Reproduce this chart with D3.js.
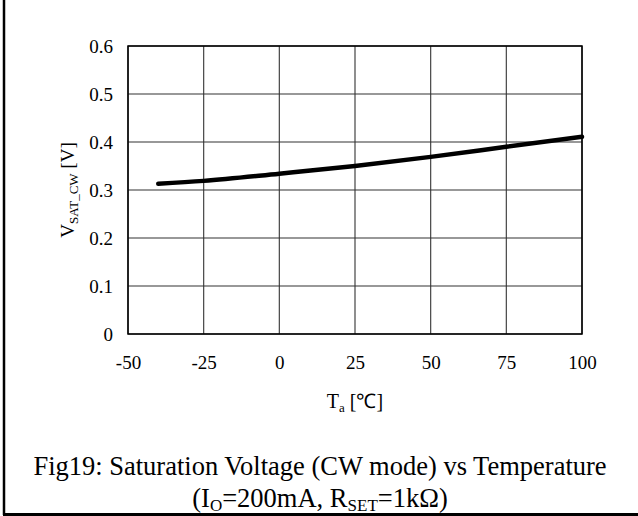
<!DOCTYPE html>
<html>
<head>
<meta charset="utf-8">
<script src="https://cdn.jsdelivr.net/npm/d3@7"></script>
<style>
  body { margin: 0; background: #fff; }
  svg text { font-family: "Liberation Serif", "Times New Roman", serif; fill: #000; }
</style>
</head>
<body>
<div id="content"></div>
<script>
// data
var temps = [-40, -25, 0, 25, 50, 75, 100];
var vsat = [0.313, 0.319, 0.334, 0.350, 0.369, 0.390, 0.411];
var xTicks = [-50, -25, 0, 25, 50, 75, 100];
var yTicks = [0, 0.1, 0.2, 0.3, 0.4, 0.5, 0.6];

var width = 638, height = 516;
var margin = {left: 128, right: 56, top: 46, bottom: 182};
var serif = '"Liberation Serif", "Times New Roman", serif';

var svg = d3.select('#content').append('svg')
  .attr('width', width)
  .attr('height', height);

// outer frame (only left and bottom edges are in view)
svg.append('line').attr('x1', 4).attr('x2', 4).attr('y1', 0).attr('y2', 515)
  .attr('stroke', '#000').attr('stroke-width', 2.5);
svg.append('line').attr('x1', 3).attr('x2', width).attr('y1', 514.5).attr('y2', 514.5)
  .attr('stroke', '#000').attr('stroke-width', 3);

var x = d3.scaleLinear().domain([-50, 100]).range([margin.left, width - margin.right]);
var y = d3.scaleLinear().domain([0, 0.6]).range([height - margin.bottom, margin.top]);

// gridlines
svg.append('g')
  .selectAll('line')
  .data(xTicks)
  .enter().append('line')
  .attr('x1', function(d) { return x(d); })
  .attr('x2', function(d) { return x(d); })
  .attr('y1', y(0)).attr('y2', y(0.6))
  .attr('stroke', '#444').attr('stroke-width', 1.2);

svg.append('g')
  .selectAll('line')
  .data(yTicks)
  .enter().append('line')
  .attr('x1', x(-50)).attr('x2', x(100))
  .attr('y1', function(d) { return y(d); })
  .attr('y2', function(d) { return y(d); })
  .attr('stroke', '#333').attr('stroke-width', 1.2);

// plot frame
svg.append('rect')
  .attr('x', x(-50)).attr('y', y(0.6))
  .attr('width', x(100) - x(-50)).attr('height', y(0) - y(0.6))
  .attr('fill', 'none').attr('stroke', '#000').attr('stroke-width', 1.5);

// tick labels
var yAxis = d3.axisLeft(y).tickValues(yTicks).tickSize(0).tickPadding(15)
  .tickFormat(function(d) { return d === 0 ? '0' : d3.format('.1f')(d); });
var gy = svg.append('g').attr('transform', 'translate(' + x(-50) + ',0)').call(yAxis);
gy.select('.domain').remove();
gy.selectAll('text').style('font-size', '19px').style('font-family', serif);

var xAxis = d3.axisBottom(x).tickValues(xTicks).tickSize(0).tickPadding(22)
  .tickFormat(function(d) { return String(d); });
var gx = svg.append('g').attr('transform', 'translate(0,' + y(0) + ')').call(xAxis);
gx.select('.domain').remove();
gx.selectAll('text').style('font-size', '19px').style('font-family', serif);

// curve
var line = d3.line()
  .x(function(d, i) { return x(temps[i]); })
  .y(function(d) { return y(d); })
  .curve(d3.curveMonotoneX);

svg.append('path')
  .datum(vsat)
  .attr('d', line)
  .attr('fill', 'none')
  .attr('stroke', '#000')
  .attr('stroke-width', 4.5)
  .attr('stroke-linecap', 'round');

// axis titles
var xt = svg.append('text')
  .attr('x', 355).attr('y', 408)
  .attr('text-anchor', 'middle')
  .style('font-size', '20px');
xt.append('tspan').text('T');
xt.append('tspan').attr('dy', 4).style('font-size', '13px').text('a');
xt.append('tspan').attr('dy', -4).text(' [\u2103]');

var yt = svg.append('text')
  .attr('transform', 'translate(74,190) rotate(-90)')
  .attr('text-anchor', 'middle')
  .style('font-size', '19px');
yt.append('tspan').text('V');
yt.append('tspan').attr('dy', 4).style('font-size', '13px').text('SAT_CW');
yt.append('tspan').attr('dy', -4).text(' [V]');

// caption
svg.append('text')
  .attr('x', 320).attr('y', 475)
  .attr('text-anchor', 'middle')
  .style('font-size', '26.5px')
  .text('Fig19: Saturation Voltage (CW mode) vs Temperature');

var cap = svg.append('text')
  .attr('x', 320).attr('y', 507)
  .attr('text-anchor', 'middle')
  .style('font-size', '26.5px');
cap.append('tspan').text('(I');
cap.append('tspan').attr('dy', 4).style('font-size', '17px').text('O');
cap.append('tspan').attr('dy', -4).text('=200mA, R');
cap.append('tspan').attr('dy', 4).style('font-size', '17px').text('SET');
cap.append('tspan').attr('dy', -4).text('=1k\u03A9)');
</script>
</body>
</html>
